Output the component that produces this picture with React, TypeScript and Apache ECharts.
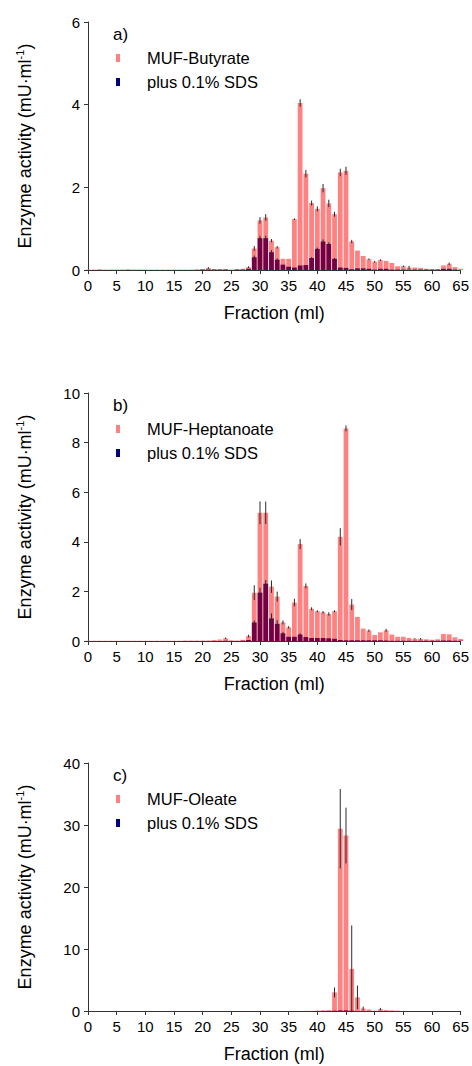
import React, { useEffect, useRef } from "react";
import * as echarts from "echarts";

const FRACTIONS = [
  0, 1, 2, 3, 4, 5, 6, 7, 8, 9, 10, 11, 12, 13, 14, 15, 16, 17, 18, 19, 20, 21, 22, 23, 24, 25, 26, 27, 28, 29,
  30, 31, 32, 33, 34, 35, 36, 37, 38, 39, 40, 41, 42, 43, 44, 45, 46, 47, 48, 49, 50, 51, 52, 53, 54, 55, 56, 57,
  58, 59, 60, 61, 62, 63, 64, 65,
];

// Panel a) MUF-Butyrate
const BUTYRATE = [
  0.01, 0.01, 0.02, 0.01, 0.01, 0.01, 0.01, 0.02, 0.01, 0.01,
  0.01, 0.01, 0.01, 0.01, 0.01, 0.01, 0.01, 0.01, 0.01, 0.02,
  0.02, 0.05, 0.02, 0.02, 0.02, 0.01, 0.02, 0.03, 0.07, 0.52,
  1.2, 1.27, 0.71, 0.55, 0.27, 0.27, 1.23, 4.04, 2.33, 1.62,
  1.48, 1.98, 1.61, 1.35, 2.36, 2.4, 0.69, 0.47, 0.34, 0.26,
  0.2, 0.24, 0.22, 0.17, 0.09, 0.09, 0.06, 0.06, 0.05, 0.03,
  0.02, 0.02, 0.11, 0.15, 0.07, 0.03,
];
const BUTYRATE_SDS = [
  0, 0, 0, 0, 0, 0, 0, 0, 0, 0,
  0, 0, 0, 0, 0, 0, 0, 0, 0, 0,
  0.01, 0.01, 0.01, 0.01, 0.01, 0, 0.01, 0.01, 0.03, 0.31,
  0.77, 0.77, 0.43, 0.25, 0.13, 0.08, 0.06, 0.11, 0.12, 0.29,
  0.51, 0.69, 0.63, 0.27, 0.06, 0.05, 0.02, 0.04, 0.04, 0.03,
  0.01, 0.03, 0.03, 0.01, 0.01, 0.01, 0.01, 0.01, 0.01, 0.01,
  0.01, 0.01, 0.03, 0.03, 0.01, 0,
];
const BUTYRATE_ERR = [
  0, 0, 0, 0, 0, 0, 0, 0, 0, 0,
  0, 0, 0, 0, 0, 0, 0, 0, 0, 0,
  0, 0.02, 0, 0, 0, 0, 0, 0, 0.02, 0.06,
  0.08, 0.08, 0.04, 0.03, 0, 0, 0.02, 0.09, 0.09, 0.06,
  0.06, 0.1, 0.09, 0.06, 0.09, 0.1, 0.04, 0, 0, 0.02,
  0.02, 0.02, 0, 0, 0, 0.02, 0.04, 0, 0, 0,
  0, 0, 0, 0.03, 0, 0,
];
const BUTYRATE_SDS_ERR = [
  0, 0, 0, 0, 0, 0, 0, 0, 0, 0,
  0, 0, 0, 0, 0, 0, 0, 0, 0, 0,
  0, 0, 0, 0, 0, 0, 0, 0, 0, 0.04,
  0.06, 0.06, 0.05, 0.03, 0, 0, 0, 0, 0, 0.02,
  0.03, 0.05, 0.04, 0.02, 0, 0, 0, 0, 0, 0,
  0, 0, 0, 0, 0, 0, 0, 0, 0, 0,
  0, 0, 0, 0, 0, 0,
];

// Panel b) MUF-Heptanoate
const HEPTANOATE = [
  0.01, 0.01, 0.01, 0.01, 0.01, 0.01, 0.01, 0.01, 0.01, 0.01,
  0.01, 0.01, 0.01, 0.01, 0.01, 0.01, 0.01, 0.02, 0.02, 0.02,
  0.02, 0.02, 0.04, 0.06, 0.11, 0.03, 0.02, 0.05, 0.2, 1.95,
  5.17, 5.17, 2.19, 1.79, 0.75, 0.55, 1.55, 3.91, 2.22, 1.3,
  1.2, 1.16, 1.09, 1.2, 4.2, 8.57, 1.47, 0.97, 0.5, 0.42,
  0.24, 0.35, 0.43, 0.26, 0.17, 0.17, 0.12, 0.09, 0.09, 0.07,
  0.05, 0.07, 0.28, 0.27, 0.15, 0.08,
];
const HEPTANOATE_SDS = [
  0, 0, 0, 0, 0, 0, 0, 0, 0, 0,
  0, 0, 0, 0, 0, 0, 0, 0, 0, 0,
  0, 0, 0, 0, 0.01, 0, 0, 0.01, 0.04, 0.75,
  1.95, 2.31, 0.91, 0.69, 0.31, 0.17, 0.17, 0.26, 0.16, 0.12,
  0.12, 0.12, 0.11, 0.09, 0.04, 0.03, 0.03, 0.03, 0.03, 0.03,
  0.03, 0.03, 0.02, 0.01, 0.01, 0.01, 0.01, 0.01, 0.01, 0.01,
  0.01, 0.01, 0.02, 0.02, 0.01, 0.01,
];
const HEPTANOATE_ERR = [
  0, 0, 0, 0, 0, 0, 0, 0, 0, 0,
  0, 0, 0, 0, 0, 0, 0, 0, 0, 0,
  0, 0, 0, 0, 0.03, 0, 0, 0, 0.05, 0.3,
  0.46, 0.45, 0.25, 0.2, 0.08, 0.05, 0.15, 0.2, 0.1, 0.06,
  0.04, 0.05, 0.07, 0.04, 0.35, 0.12, 0.22, 0, 0, 0.05,
  0, 0, 0.06, 0, 0, 0, 0, 0.02, 0.03, 0,
  0, 0, 0, 0, 0, 0,
];
const HEPTANOATE_SDS_ERR = [
  0, 0, 0, 0, 0, 0, 0, 0, 0, 0,
  0, 0, 0, 0, 0, 0, 0, 0, 0, 0,
  0, 0, 0, 0, 0, 0, 0, 0, 0, 0.08,
  0.2, 0.15, 0.2, 0.15, 0.05, 0, 0, 0.05, 0, 0,
  0, 0, 0, 0, 0, 0, 0, 0, 0, 0,
  0, 0, 0, 0, 0, 0, 0, 0, 0, 0,
  0, 0, 0, 0, 0, 0,
];

// Panel c) MUF-Oleate
const OLEATE = [
  0, 0, 0, 0, 0, 0, 0, 0, 0, 0,
  0, 0, 0, 0, 0, 0, 0, 0, 0, 0,
  0, 0, 0, 0, 0, 0, 0, 0, 0, 0,
  0, 0, 0, 0, 0, 0, 0, 0, 0.02, 0.03,
  0.08, 0.12, 0.15, 3.0, 29.4, 28.3, 6.8, 2.2, 0.4, 0.25,
  0.05, 0.3, 0.15, 0.1, 0.05, 0, 0, 0, 0, 0,
  0, 0, 0, 0, 0, 0,
];
const OLEATE_SDS = [
  0, 0, 0, 0, 0, 0, 0, 0, 0, 0,
  0, 0, 0, 0, 0, 0, 0, 0, 0, 0,
  0, 0, 0, 0, 0, 0, 0, 0, 0, 0,
  0, 0, 0, 0, 0, 0, 0, 0, 0, 0,
  0, 0, 0, 0.05, 0.1, 0.1, 0.05, 0, 0, 0,
  0, 0, 0, 0, 0, 0, 0, 0, 0, 0,
  0, 0, 0, 0, 0, 0,
];
const OLEATE_ERR = [
  0, 0, 0, 0, 0, 0, 0, 0, 0, 0,
  0, 0, 0, 0, 0, 0, 0, 0, 0, 0,
  0, 0, 0, 0, 0, 0, 0, 0, 0, 0,
  0, 0, 0, 0, 0, 0, 0, 0, 0, 0,
  0, 0, 0, 0.8, 6.4, 4.5, 7.0, 1.9, 0.3, 0,
  0, 0.2, 0, 0, 0, 0, 0, 0, 0, 0,
  0, 0, 0, 0, 0, 0,
];
const OLEATE_SDS_ERR = [
  0, 0, 0, 0, 0, 0, 0, 0, 0, 0,
  0, 0, 0, 0, 0, 0, 0, 0, 0, 0,
  0, 0, 0, 0, 0, 0, 0, 0, 0, 0,
  0, 0, 0, 0, 0, 0, 0, 0, 0, 0,
  0, 0, 0, 0, 0, 0, 0, 0, 0, 0,
  0, 0, 0, 0, 0, 0, 0, 0, 0, 0,
  0, 0, 0, 0, 0, 0,
];

const PANEL_LABELS = ["a)", "b)", "c)"];
const SUBSTRATES = ["MUF-Butyrate", "MUF-Heptanoate", "MUF-Oleate"];
const SDS_NAME = "plus 0.1% SDS";
const Y_MAX = [6, 10, 40];
const Y_INTERVAL = [2, 2, 10];
const X_TICKS = { min: 0, max: 65, interval: 5 };

const PANELS = [
  { main: BUTYRATE, sds: BUTYRATE_SDS, err: BUTYRATE_ERR, sdsErr: BUTYRATE_SDS_ERR },
  { main: HEPTANOATE, sds: HEPTANOATE_SDS, err: HEPTANOATE_ERR, sdsErr: HEPTANOATE_SDS_ERR },
  { main: OLEATE, sds: OLEATE_SDS, err: OLEATE_ERR, sdsErr: OLEATE_SDS_ERR },
];

const FONT = "'Liberation Sans', Arial, Helvetica, sans-serif";
const PINK = "#ff8282";
const DARK = "#740044";
const NAVY = "#00007f";
const AXIS = "#333333";
const GRID_TOPS = [22, 393, 763];
const GRID_H = 248;
const GRID_LEFT = 88;
const GRID_W = 373;

export default function App() {
  const ref = useRef<HTMLDivElement>(null);
  useEffect(() => {
    if (!ref.current) return;
    const chart = echarts.init(ref.current, null, { renderer: "svg" });

    const grids: any[] = [];
    const xAxes: any[] = [];
    const yAxes: any[] = [];
    const series: any[] = [];
    const legends: any[] = [];
    const titles: any[] = [];

    const errRender = (params: any, api: any) => {
      const x = api.value(0);
      const y = api.value(1);
      const e = api.value(2);
      if (!e) return { type: "group", children: [] };
      const p1 = api.coord([x, y + e]);
      const p2 = api.coord([x, y - e]);
      return {
        type: "line",
        shape: { x1: p1[0], y1: p1[1], x2: p2[0], y2: p2[1] },
        style: { stroke: "#2a2a2a", lineWidth: 1 },
      };
    };

    PANELS.forEach((p, i) => {
      const top = GRID_TOPS[i];
      grids.push({ left: GRID_LEFT, top, width: GRID_W, height: GRID_H, containLabel: false });
      xAxes.push({
        type: "value",
        gridIndex: i,
        min: X_TICKS.min,
        max: X_TICKS.max,
        interval: X_TICKS.interval,
        axisLine: { show: true, onZero: false, lineStyle: { color: AXIS, width: 1 } },
        axisTick: { show: true, inside: false, length: 4, lineStyle: { color: AXIS } },
        axisLabel: { fontSize: 15, color: "#000", margin: 8, fontFamily: FONT },
        splitLine: { show: false },
        name: "Fraction (ml)",
        nameLocation: "middle",
        nameGap: 34,
        nameTextStyle: { fontSize: 18, color: "#000", fontFamily: FONT },
      });
      yAxes.push({
        type: "value",
        gridIndex: i,
        min: 0,
        max: Y_MAX[i],
        interval: Y_INTERVAL[i],
        axisLine: { show: true, lineStyle: { color: AXIS, width: 1 } },
        axisTick: { show: true, inside: false, length: 4, lineStyle: { color: AXIS } },
        axisLabel: { fontSize: 15, color: "#000", margin: 8, fontFamily: FONT },
        splitLine: { show: false },
        name: "Enzyme activity (mU·ml{sup|-1})",
        nameLocation: "middle",
        nameGap: 52,
        nameTextStyle: {
          fontSize: 18,
          color: "#000",
          fontFamily: FONT,
          rich: {
            sup: { fontSize: 11, color: "#000", fontFamily: FONT, verticalAlign: "top", lineHeight: 22 },
          },
        },
      });
      series.push({
        type: "bar",
        name: SUBSTRATES[i],
        xAxisIndex: i,
        yAxisIndex: i,
        barWidth: 4.8,
        barGap: "-100%",
        itemStyle: { color: PINK },
        data: FRACTIONS.map((f, k) => [f, p.main[k]]),
        z: 2,
      });
      series.push({
        type: "bar",
        name: SDS_NAME,
        xAxisIndex: i,
        yAxisIndex: i,
        barWidth: 4.8,
        barGap: "-100%",
        itemStyle: { color: DARK },
        data: FRACTIONS.map((f, k) => [f, p.sds[k]]),
        z: 3,
      });
      series.push({
        type: "custom",
        name: "err-main-" + i,
        xAxisIndex: i,
        yAxisIndex: i,
        renderItem: errRender,
        data: FRACTIONS.map((f, k) => [f, p.main[k], p.err[k]]),
        z: 4,
      });
      series.push({
        type: "custom",
        name: "err-sds-" + i,
        xAxisIndex: i,
        yAxisIndex: i,
        renderItem: errRender,
        data: FRACTIONS.map((f, k) => [f, p.sds[k], p.sdsErr[k]]),
        z: 4,
      });
      legends.push({
        left: 116,
        top: top + 26,
        orient: "vertical",
        padding: 0,
        itemWidth: 4,
        itemHeight: 8,
        itemGap: 4,
        icon: "rect",
        selectedMode: false,
        textStyle: { fontSize: 16.5, color: "#000", fontFamily: FONT, lineHeight: 20, padding: [0, 0, 0, 22] },
        data: [
          { name: SUBSTRATES[i], itemStyle: { color: PINK } },
          { name: SDS_NAME, itemStyle: { color: NAVY } },
        ],
      });
      titles.push({
        text: PANEL_LABELS[i],
        left: 113,
        top: top + 4,
        padding: 0,
        textStyle: { fontSize: 17, fontWeight: "normal", color: "#000", fontFamily: FONT },
      });
    });

    chart.setOption({
      animation: false,
      backgroundColor: "#ffffff",
      textStyle: { fontFamily: FONT },
      title: titles,
      legend: legends,
      grid: grids,
      xAxis: xAxes,
      yAxis: yAxes,
      series,
    });
    return () => chart.dispose();
  }, []);

  return (
    <div
      ref={ref}
      style={{ position: "fixed", left: 0, top: 0, width: 472, height: 1066, background: "#fff" }}
    />
  );
}
